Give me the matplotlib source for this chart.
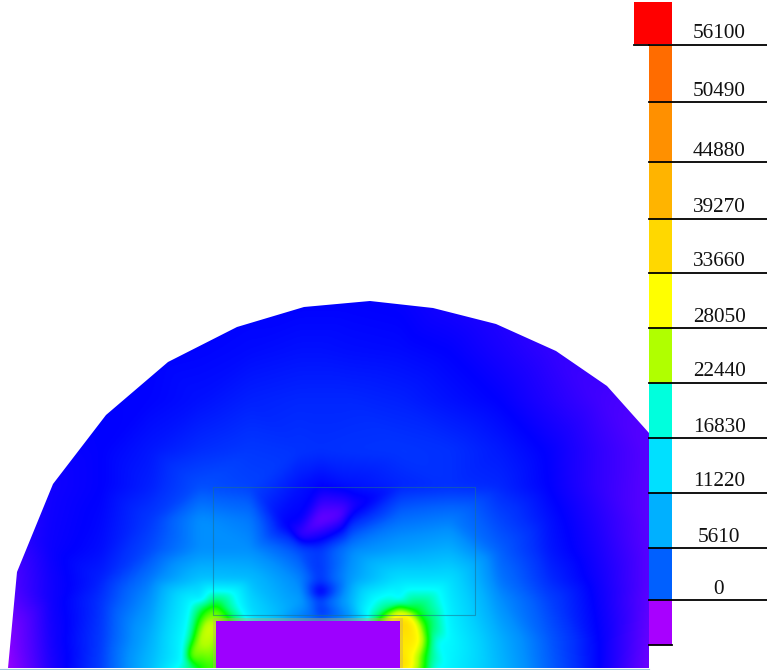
"""Field contour with stepped legend, redrawn from a picture (pixel coordinates)."""
import numpy as np
import matplotlib
matplotlib.use("Agg")
import matplotlib.pyplot as plt
import matplotlib.tri as mtri
from matplotlib.colors import LinearSegmentedColormap
from matplotlib.patches import Polygon, Rectangle

W, H = 767, 670
BLUR = 4.0   # px, softens the hand-read mesh

# ── data ──────────────────────────────────────────────────────────────────────

legend_labels = ["56100", "50490", "44880", "39270", "33660", "28050",
                 "22440", "16830", "11220", "5610", "0"]
legend_lines = [45, 102, 162, 219, 273, 328, 383, 438, 493, 548, 600]
legend_colors = ["#ff6c00", "#ff9000", "#ffb400", "#ffd800", "#ffff00",
                 "#b0ff00", "#00ffdd", "#00e0ff", "#00b0ff", "#0060ff", "#a800ff"]

boundary_x = [8, 17, 53, 106, 168, 237, 304, 370, 433, 496, 556, 607, 649, 649]
boundary_y = [668, 572, 484, 415, 362, 327, 307, 301, 308, 324, 351, 386, 433, 668]

grid_x = [0, 50, 100, 150, 200, 250, 300, 320, 350, 400, 450, 500, 550, 600, 650]
row_300 = [-1500, -1500, -1500, -1500, -1500, -1500, -1500, -1500, -1500, -1600, -2200, -2700, -3000, -3000, -3000]
row_350 = [-1500, -1500, -1500, -1500, -1400, -1200, -1000, -1000, -1100, -1200, -1500, -2200, -3000, -3200, -3200]
row_400 = [-1800, -1600, -1500, -1400, -1000, -500, -300, -300, -300, -500, -1000, -1500, -2500, -3500, -4000]
row_450 = [-2500, -1800, -1500, -800, -100, 300, 100, 0, 100, 200, 0, -700, -1600, -3000, -4200]
row_487 = [-3000, -2000, -1500, -500, 1200, 700, -1000, -1500, -1000, -400, 0, -300, -1500, -3000, -4300]
row_520 = [-3500, -1900, -1300, 300, 4000, 3000, -1500, -5000, -800, 2500, 3200, 800, -1000, -2600, -4300]
row_550 = [-4000, -1800, -1100, 1000, 4000, 4000, 1000, 300, 3500, 5000, 6000, 1800, -800, -2300, -4200]
row_580 = [-4500, -2000, -500, 3000, 7500, 7000, 3500, 200, 4500, 10000, 10000, 2800, -200, -2000, -4200]
row_600 = [-5000, -2000, 0, 4200, 10500, 9000, 5000, 500, 6000, 12000, 11000, 4000, 600, -1800, -4400]
row_640 = [-6500, -2200, 300, 6000, 20000, 10000, 10000, 10000, 10000, 34000, 12500, 6000, 1500, -1500, -4700]
row_668 = [-7000, -2400, 500, 7000, 20000, 10000, 10000, 10000, 10000, 34000, 12000, 6500, 1800, -1500, -5000]
grid_y = [300, 350, 400, 450, 487, 520, 550, 580, 600, 640, 668]
grid_u = [row_300, row_350, row_400, row_450, row_487, row_520, row_550, row_580, row_600, row_640, row_668]

# hot spots beside the block, the cold hole above it and the top rim
extra_x = [190, 200, 215, 215, 205, 190, 200, 210, 198, 185, 212, 213, 213, 230, 245, 240, 225, 183, 195,
           400, 385, 375, 400, 415, 425, 432, 430, 415, 410, 410, 437, 436, 403, 403, 420,
           260, 290, 320, 350, 365, 250, 285, 320, 320, 320, 340, 300, 355, 285]
extra_y = [600, 604, 605, 612, 615, 657, 640, 625, 625, 640, 668, 621, 667, 612, 620, 606, 618, 660, 668,
           604, 610, 618, 615, 612, 625, 640, 655, 640, 625, 660, 642, 668, 621, 667, 645,
           620, 620, 619, 620, 620, 610, 610, 608, 593, 610, 515, 535, 505, 525]
extra_u = [12000, 16000, 20000, 24000, 22000, 24000, 26000, 28000, 21000, 13000, 22000, 24000, 22000, 17000, 14000, 12500, 22000, 12500, 18000,
           18000, 17000, 17000, 29000, 20000, 20000, 17000, 17000, 33000, 35000, 30000, 13000, 13000, 38000, 38000, 27000,
           9000, 4000, 1000, 4000, 10000, 9500, 6000, 500, -2500, -500, -4500, -3200, -2200, -1500]

color_u = [-7000, -4000, -3000, -1500, 0, 1800, 4000, 6000, 8500, 10000, 13000, 17000, 20000, 25000, 29000, 36000, 42000, 47000, 56100]
color_hex = ["#a800ff", "#5000ff", "#3000ff", "#0000ff", "#0030ff", "#0060ff", "#0090ff", "#00b0ff", "#00d0ff",
             "#00e0ff", "#00ffff", "#00ff80", "#00ff00", "#b0ff00", "#ffff00", "#ffd800", "#ffb400", "#ff9000", "#ff0000"]

# ── helpers ───────────────────────────────────────────────────────────────────

def soften(field, sigma):
    r = int(3 * sigma)
    kernel = np.exp(-0.5 * (np.arange(-r, r + 1) / sigma) ** 2)
    kernel /= kernel.sum()
    padded = np.pad(field, r, mode="edge")
    padded = np.apply_along_axis(np.convolve, 0, padded, kernel, mode="same")
    padded = np.apply_along_axis(np.convolve, 1, padded, kernel, mode="same")
    return padded[r:-r, r:-r]

# ── plot ──────────────────────────────────────────────────────────────────────

fig = plt.figure(figsize=(W / 100, H / 100), dpi=100)
ax = fig.add_axes([0, 0, 1, 1])

gx, gy = np.meshgrid(grid_x, grid_y)
px = np.concatenate([gx.ravel(), extra_x]).astype(float)
py = np.concatenate([gy.ravel(), extra_y]).astype(float)
pu = np.concatenate([np.array(grid_u).ravel(), extra_u]).astype(float)

u_lo, u_hi = color_u[0], color_u[-1]
stops = [(u - u_lo) / (u_hi - u_lo) for u in color_u]
cmap = LinearSegmentedColormap.from_list("field", list(zip(stops, color_hex)), N=1024)

interp = mtri.LinearTriInterpolator(mtri.Triangulation(px, py), pu)
ix, iy = np.meshgrid(np.arange(0, 651), np.arange(300, 669))
field = soften(np.ma.filled(interp(ix, iy), -1500.0), BLUR)

im = ax.imshow(field, extent=(0, 650, 668, 300), cmap=cmap, vmin=u_lo, vmax=u_hi,
               interpolation="bilinear", aspect="auto")
outline = Polygon(np.column_stack([boundary_x, boundary_y]), closed=True,
                  transform=ax.transData, facecolor="none", edgecolor="none")
ax.add_patch(outline)
im.set_clip_path(outline)

ax.set_xlim(0, W)
ax.set_ylim(H, 0)
ax.axis("off")

# the block and its rim
ax.add_patch(Rectangle((213, 618), 190, 50, facecolor="#c8a860", edgecolor="none", alpha=0.4))
ax.add_patch(Rectangle((216, 621), 184, 47, facecolor="#9d00ff", edgecolor="none"))
ax.plot([213, 213, 475, 475, 213], [487, 615, 615, 487, 487], color="#1f6f8f", lw=0.8, alpha=0.55)
ax.plot([0, 649], [668.5, 668.5], color="#9fc8dc", lw=0.8)

# stepped legend
ax.add_patch(Rectangle((634, 2), 38, 42, facecolor="#ff0000", edgecolor="none"))
edges = legend_lines + [645]
for top, bottom, col in zip(edges[:-1], edges[1:], legend_colors):
    ax.add_patch(Rectangle((649, top), 23, bottom - top, facecolor=col, edgecolor="none"))
ax.plot([634, 649], [45, 45], color="black", lw=1.3)
ax.plot([649, 672], [645, 645], color="black", lw=1.3)
for y, label in zip(legend_lines, legend_labels):
    ax.plot([649, 767], [y, y], color="black", lw=1.3)
    ax.text(719, y - 6.5, label, ha="center", va="baseline", fontsize=15.3,
            family="Liberation Serif", color="#111111")

fig.savefig("out.png", dpi=100)
